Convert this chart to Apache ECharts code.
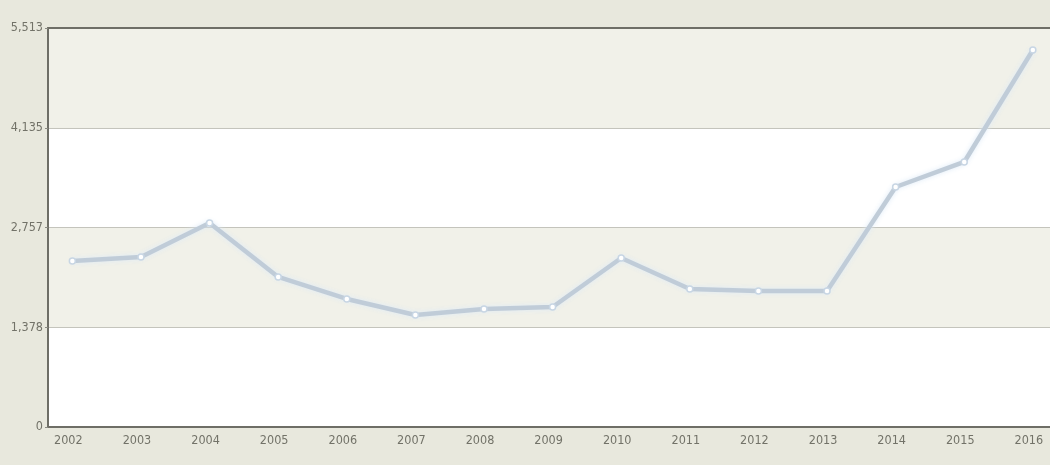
<!DOCTYPE html>
<html>
<head>
<meta charset="utf-8">
<script src="https://cdn.jsdelivr.net/npm/echarts@6/dist/echarts.min.js"></script>
<style>
  html, body { margin: 0; padding: 0; background: #e8e8dd; }
  #chart { width: 1050px; height: 465px; }
</style>
</head>
<body>
<div id="chart"></div>
<script>
// Yearly totals, 2002-2016
const years = [2002, 2003, 2004, 2005, 2006, 2007, 2008, 2009, 2010, 2011, 2012, 2013, 2014, 2015, 2016];
const values = [2294, 2349, 2819, 2073, 1769, 1548, 1630, 1658, 2335, 1907, 1879, 1879, 3316, 3662, 5209];
const yTicks = [0, 1378.25, 2756.5, 4134.75, 5513];

const labelFont = '"DejaVu Sans Condensed", "Liberation Sans Narrow", sans-serif';

const chart = echarts.init(document.getElementById('chart'));
chart.setOption({
  backgroundColor: '#e8e8dd',
  animation: false,
  grid: { left: 48, top: 28, right: 0, bottom: 38 },
  xAxis: [{
    type: 'value',
    min: 2001.645,
    max: 2016.25,
    axisLine: { show: true, onZero: false, lineStyle: { color: '#6e6e66', width: 2 } },
    axisTick: { show: false },
    splitLine: { show: false },
    axisLabel: {
      customValues: years,
      formatter: v => String(Math.round(v)),
      color: '#727268',
      fontFamily: labelFont,
      fontSize: 12.5,
      margin: 7,
      padding: [0, 8, 0, 0]
    }
  }, {
    type: 'value',
    position: 'top',
    min: 2001.645,
    max: 2016.25,
    axisLine: { show: true, onZero: false, lineStyle: { color: '#6e6e66', width: 2 } },
    axisTick: { show: false },
    axisLabel: { show: false },
    splitLine: { show: false }
  }],
  yAxis: {
    type: 'value',
    min: 0,
    max: 5513,
    interval: 1378.25,
    axisLine: { show: true, lineStyle: { color: '#6e6e66', width: 2 } },
    axisTick: { show: true, length: 3, lineStyle: { color: '#8a8a82' } },
    axisLabel: {
      customValues: yTicks,
      formatter: v => Math.round(v).toLocaleString('en-US'),
      color: '#727268',
      fontFamily: labelFont,
      fontSize: 12.5,
      margin: 5
    },
    splitLine: { show: true, lineStyle: { color: '#c4c4bc', width: 1 } },
    splitArea: { show: true, areaStyle: { color: ['#ffffff', '#f1f1e9'] } }
  },
  series: [{
    type: 'line',
    data: years.map((y, i) => [y, values[i]]),
    symbol: 'circle',
    symbolSize: 6,
    itemStyle: { color: '#ffffff', borderColor: '#c8d6e4', borderWidth: 1.5 },
    lineStyle: {
      color: '#c0ccd8',
      width: 4.5,
      shadowColor: 'rgba(220,234,248,0.95)',
      shadowBlur: 5
    },
    z: 3
  }]
});
</script>
</body>
</html>
